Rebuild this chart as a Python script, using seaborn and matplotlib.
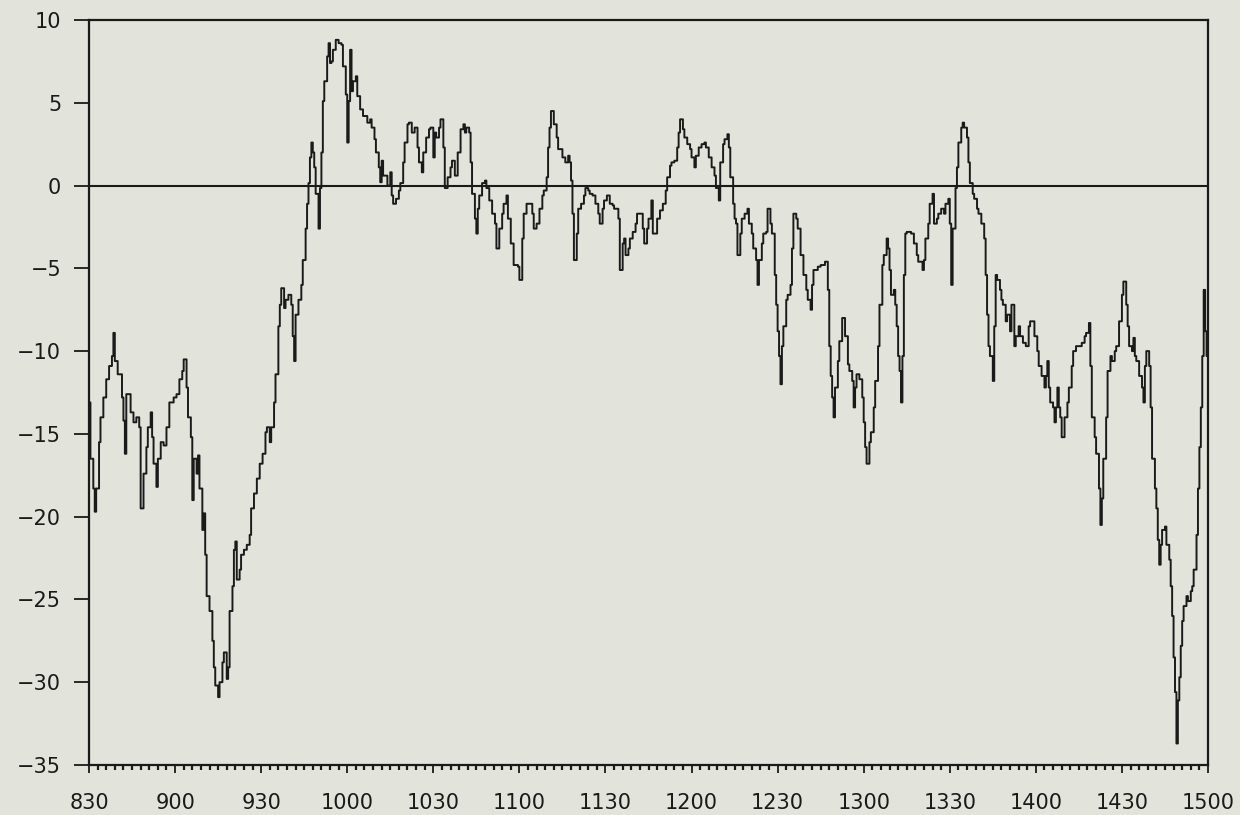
import numpy as np
import pandas as pd
import matplotlib
matplotlib.use("Agg")
import matplotlib.pyplot as plt
from matplotlib.ticker import MultipleLocator
import seaborn as sns

# minutes after 8:30 and series values
minutes = [
    0, 0.5, 1.5, 2, 2.5, 3.5, 4, 5, 6, 7, 8, 8.5, 9, 10, 11.5, 12, 12.5, 13, 14.5, 15.5,
    16.5, 17.5, 18, 19, 20, 20.5, 21.5, 22, 22.5, 23.5, 24, 25, 26, 27, 28, 29.5, 30.5, 31.5, 32.5, 33,
    34, 34.5, 35.5, 36, 36.5, 37.5, 38, 38.5, 39.5, 40, 40.5, 41, 42, 43, 43.5, 44, 45, 45.5, 46.5, 47,
    48, 48.5, 49, 50, 50.5, 51, 51.5, 52.5, 53, 54, 55, 56, 56.5, 57.5, 58.5, 59.5, 60.5, 61.5, 62, 63,
    63.5, 64.5, 65, 66, 66.5, 67, 68, 68.5, 69.5, 70.5, 71, 71.5, 72, 73, 74, 74.5, 75.5, 76, 76.5, 77,
    77.5, 78, 78.5, 79, 79.5, 80, 80.5, 81, 81.5, 82, 83, 83.5, 84, 84.5, 85, 86, 87, 88, 88.5, 89.5,
    90, 90.5, 91, 91.5, 92, 93, 93.5, 94.5, 95.5, 97, 98, 98.5, 99.5, 100, 101, 101.5, 102, 102.5, 104, 105,
    105.5, 106, 107, 108, 108.5, 109.5, 110, 111, 111.5, 112.5, 113.5, 114.5, 115, 116, 116.5, 117.5, 118.5, 119, 120, 120.5,
    121, 122, 122.5, 123.5, 124, 125, 126, 126.5, 127.5, 128.5, 129.5, 130.5, 131, 131.5, 132.5, 133, 133.5, 134.5, 135, 135.5,
    136, 137, 138, 138.5, 139.5, 140.5, 141.5, 142, 143, 144, 144.5, 145.5, 146, 147, 148, 148.5, 149.5, 150, 151, 151.5,
    152.5, 153.5, 154.5, 155, 156, 157, 158, 158.5, 159.5, 160, 160.5, 161, 162, 163, 163.5, 165, 166, 167, 167.5, 168,
    168.5, 169, 170, 170.5, 171.5, 172.5, 173, 174, 174.5, 175.5, 176.5, 177.5, 178, 179, 179.5, 180.5, 181.5, 182.5, 183, 184,
    184.5, 185, 186, 186.5, 187, 188, 188.5, 189.5, 190.5, 191, 192, 193, 193.5, 194.5, 195, 196, 196.5, 197.5, 198, 199,
    200, 201, 201.5, 202.5, 203, 204, 205, 205.5, 206, 207, 207.5, 208.5, 209.5, 210, 211, 211.5, 212.5, 213.5, 214.5, 215,
    216, 217, 218, 218.5, 219.5, 220, 221, 221.5, 222.5, 223, 223.5, 224.5, 225, 225.5, 226, 227, 227.5, 228.5, 229.5, 230,
    231, 231.5, 232.5, 233, 233.5, 234.5, 235, 236, 236.5, 237.5, 238, 239, 239.5, 240, 240.5, 241, 241.5, 242, 243, 243.5,
    244.5, 245, 245.5, 246.5, 247, 248, 249, 250, 250.5, 251.5, 252, 252.5, 254, 255, 256.5, 257.5, 258, 258.5, 259, 259.5,
    260, 261, 261.5, 262.5, 263.5, 264.5, 265, 266, 266.5, 267, 267.5, 268.5, 269.5, 270, 270.5, 271, 272, 272.5, 273.5, 274,
    275, 275.5, 276.5, 277, 278, 278.5, 279, 279.5, 280.5, 281, 281.5, 282, 282.5, 283, 283.5, 284, 284.5, 285, 286, 286.5,
    287.5, 288.5, 289, 290.5, 291, 291.5, 292.5, 293, 294, 294.5, 295.5, 296, 297, 298, 298.5, 299.5, 300, 300.5, 301, 302,
    302.5, 303, 304, 304.5, 305, 306, 306.5, 307, 308, 308.5, 309.5, 310, 311, 312, 312.5, 313, 313.5, 314, 315, 315.5,
    316, 316.5, 317.5, 318, 318.5, 319.5, 320, 321, 321.5, 322.5, 323, 324, 324.5, 325.5, 326.5, 327.5, 328, 329.5, 330.5, 331,
    332, 333, 333.5, 334, 334.5, 335, 336, 336.5, 337, 337.5, 338, 338.5, 339, 340, 341, 341.5, 342.5, 343, 344, 345,
    346, 347, 347.5, 348.5, 349, 349.5, 350.5, 351, 352, 352.5, 353, 353.5, 354.5, 355, 356, 356.5, 357.5, 358, 359, 360,
    360.5, 361.5, 362, 362.5, 363.5, 364, 364.5, 365, 366, 367, 367.5, 368, 368.5, 369.5, 370, 370.5, 371.5, 372, 372.5, 373,
    373.5, 374, 375, 375.5, 376.5, 377, 377.5, 378, 378.5, 379, 379.5, 380, 380.5, 381, 381.5, 382.5, 383, 384, 384.5, 385,
    386, 386.5, 387, 387.5, 388, 388.5, 389, 389.5, 390,
]

values = [
    -13.1, -16.5, -18.3, -19.7, -18.3, -15.5, -14.0, -12.8, -11.7, -10.9, -10.3, -8.9, -10.6, -11.4, -12.8, -14.2, -16.2, -12.6, -13.7, -14.3,
    -14.0, -14.6, -19.5, -17.4, -15.8, -14.6, -13.7, -15.2, -16.8, -18.2, -16.5, -15.5, -15.7, -14.6, -13.1, -12.8, -12.6, -11.7, -11.2, -10.5,
    -12.2, -14.0, -15.2, -19.0, -16.5, -17.4, -16.3, -18.3, -20.8, -19.8, -22.3, -24.8, -25.7, -27.5, -29.1, -30.2, -30.9, -30.0, -28.8, -28.2,
    -29.8, -29.1, -25.7, -24.2, -22.0, -21.5, -23.8, -23.2, -22.3, -22.0, -21.7, -21.1, -19.5, -18.6, -17.7, -16.8, -16.2, -14.9, -14.6, -15.5,
    -14.6, -13.1, -11.4, -8.5, -7.2, -6.2, -7.4, -6.9, -6.6, -7.2, -9.1, -10.6, -7.8, -6.9, -6.0, -4.5, -2.6, -1.1, 0.15, 1.7,
    2.6, 2.0, 1.1, -0.5, -0.5, -2.6, -0.15, 2.0, 5.1, 6.3, 7.8, 8.6, 7.4, 7.5, 8.2, 8.8, 8.6, 8.5, 7.2, 5.5,
    2.6, 5.1, 8.2, 5.7, 6.3, 6.6, 5.4, 4.6, 4.2, 3.8, 4.0, 3.5, 2.8, 2.0, 1.1, 0.2, 1.5, 0.6, 0.0, 0.8,
    -0.6, -1.1, -0.8, -0.3, 0.15, 1.4, 2.6, 3.7, 3.8, 3.2, 3.5, 2.3, 1.4, 0.8, 2.0, 2.9, 3.4, 3.5, 1.7, 3.2,
    2.9, 3.5, 4.0, 2.3, -0.15, 0.5, 1.1, 1.5, 0.6, 2.0, 3.4, 3.7, 3.2, 3.5, 3.2, 1.4, -0.5, -2.0, -2.9, -1.4,
    -0.6, 0.15, 0.3, -0.15, -0.9, -1.7, -2.3, -3.8, -2.6, -1.7, -1.1, -0.6, -2.0, -3.5, -4.8, -4.8, -4.9, -5.7, -3.2, -1.7,
    -1.1, -1.1, -1.7, -2.6, -2.3, -1.4, -0.6, -0.3, 0.5, 2.3, 3.5, 4.5, 3.7, 2.9, 2.2, 1.7, 1.4, 1.8, 1.4, 0.3,
    -1.7, -4.5, -2.9, -1.4, -1.1, -0.6, -0.15, -0.3, -0.5, -0.6, -1.1, -1.7, -2.3, -1.4, -0.9, -0.6, -1.1, -1.2, -1.4, -1.4,
    -2.0, -5.1, -3.5, -3.2, -4.2, -3.8, -3.2, -2.8, -2.3, -1.7, -1.7, -2.6, -3.5, -2.6, -2.0, -0.9, -2.9, -2.9, -2.0, -1.5,
    -1.1, -0.3, 0.5, 1.2, 1.4, 1.5, 2.3, 3.2, 4.0, 3.4, 2.9, 2.5, 2.2, 1.7, 1.1, 1.8, 2.3, 2.5, 2.6, 2.3,
    1.7, 1.1, 0.6, -0.15, -0.9, 1.4, 2.5, 2.8, 3.1, 2.3, 0.5, -1.1, -2.0, -2.3, -4.2, -2.9, -2.0, -1.7, -1.4, -2.3,
    -2.9, -3.8, -4.5, -6.0, -4.5, -3.5, -2.9, -2.8, -1.4, -2.3, -2.9, -5.4, -7.2, -8.8, -10.3, -12.0, -9.7, -8.5, -6.9, -6.6,
    -6.0, -3.8, -1.7, -2.0, -2.6, -4.2, -5.4, -6.3, -6.9, -7.5, -6.0, -5.1, -4.9, -4.8, -4.6, -6.3, -9.7, -11.5, -12.8, -14.0,
    -12.2, -10.6, -9.4, -8.0, -9.1, -10.8, -11.2, -11.8, -13.4, -12.2, -11.4, -11.7, -12.8, -14.3, -15.8, -16.8, -15.5, -14.9, -13.4, -11.8,
    -9.7, -7.2, -4.8, -4.2, -3.2, -3.8, -5.1, -6.6, -6.3, -7.2, -8.5, -10.3, -11.2, -13.1, -10.3, -5.4, -2.9, -2.8, -2.8, -2.9,
    -3.5, -4.2, -4.6, -5.1, -4.5, -3.2, -2.3, -1.1, -0.5, -2.3, -2.0, -1.7, -1.4, -1.7, -1.1, -0.8, -2.3, -6.0, -2.6, -0.15,
    1.1, 2.6, 3.5, 3.8, 3.5, 2.9, 1.4, 0.15, -0.5, -0.8, -1.4, -1.7, -2.3, -3.2, -5.4, -7.8, -9.7, -10.3, -11.8, -8.5,
    -5.4, -5.7, -6.3, -6.9, -7.2, -8.2, -7.8, -8.8, -7.2, -9.7, -9.1, -8.5, -9.1, -9.5, -9.7, -8.5, -8.2, -9.1, -10.0, -10.9,
    -11.5, -12.2, -11.5, -10.6, -12.2, -13.1, -13.4, -14.3, -13.4, -12.2, -13.4, -14.0, -15.2, -14.0, -13.1, -12.2, -10.9, -10.0, -9.7, -9.7,
    -9.5, -9.1, -8.9, -8.3, -10.9, -14.0, -15.2, -16.2, -18.3, -20.5, -18.9, -16.5, -14.0, -11.2, -10.3, -10.6, -10.0, -9.7, -8.2, -6.6,
    -5.8, -7.2, -8.5, -9.7, -10.0, -9.2, -10.3, -10.6, -11.5, -12.2, -13.1, -10.9, -10.0, -10.9, -13.4, -16.5, -18.3, -19.5, -21.4, -22.9,
    -21.7, -20.8, -20.6, -21.7, -22.6, -24.2, -26.0, -28.5, -30.6, -33.7, -31.1, -29.7, -27.8, -26.3, -25.4, -24.8, -25.1, -24.5, -24.2, -23.2,
    -21.1, -18.3, -15.8, -13.4, -10.3, -6.3, -8.8, -10.3, -10.3,
]

tick_minutes = [0, 30, 60, 90, 120, 150, 180, 210, 240, 270, 300, 330, 360, 390]
tick_labels = ["830", "900", "930", "1000", "1030", "1100", "1130", "1200",
               "1230", "1300", "1330", "1400", "1430", "1500"]
y_ticks = [10, 5, 0, -5, -10, -15, -20, -25, -30, -35]

df = pd.DataFrame({"minute": minutes, "value": values})

sns.set_style("ticks")
plt.rcParams["font.family"] = ["DejaVu Sans"]

bg = "#e2e3db"
fig = plt.figure(figsize=(12.4, 8.15), dpi=100, facecolor=bg)
ax = fig.add_axes([89 / 1240, 1 - 765 / 815, (1208 - 89) / 1240, (765 - 20) / 815])
ax.set_facecolor(bg)

sns.lineplot(data=df, x="minute", y="value", ax=ax, color="#1a1a1a",
             linewidth=1.4, drawstyle="steps-post", estimator=None, sort=False)
ax.axhline(0, color="#1a1a1a", linewidth=1.5, zorder=1)

ax.set_xlim(0, 390)
ax.set_ylim(-35, 10)
ax.set_xticks(tick_minutes)
ax.set_xticklabels(tick_labels)
ax.set_yticks(y_ticks)
ax.xaxis.set_minor_locator(MultipleLocator(3))
ax.set_xlabel("")
ax.set_ylabel("")

for s in ax.spines.values():
    s.set_visible(True)
    s.set_color("#1a1a1a")
    s.set_linewidth(1.6)

ax.tick_params(axis="y", which="major", direction="out", length=11, width=1.3,
               pad=9, labelsize=15, colors="#1a1a1a")
ax.tick_params(axis="x", which="major", direction="out", length=6, width=1.3,
               pad=14, labelsize=15, colors="#1a1a1a")
ax.tick_params(axis="x", which="minor", direction="out", length=3.5, width=1.6,
               colors="#1a1a1a")
ax.tick_params(top=False, right=False)

fig.savefig("out.png", dpi=100, facecolor=bg)
